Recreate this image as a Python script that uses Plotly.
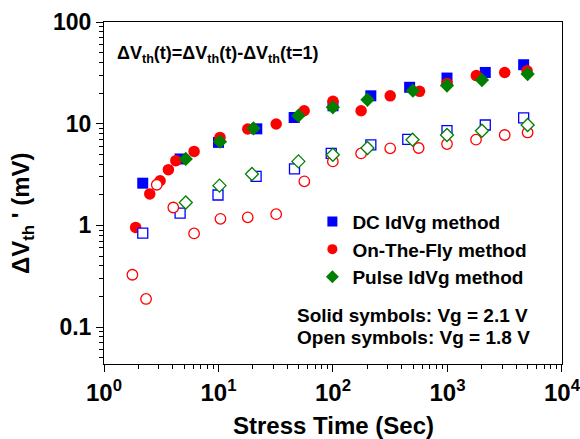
import plotly.graph_objects as go

# ---------------- data ----------------
dc_solid_x = [2.18, 4.62, 10, 21.6, 45.8, 100, 214, 467, 990, 2138, 4626]
dc_solid_y = [2.6, 4.5, 6.55, 8.9, 11.5, 15.0, 18.8, 22.8, 28.1, 31.9, 38.0]
dc_open_x = [2.18, 4.62, 9.9, 21.3, 46.1, 96.5, 214, 450, 990, 2138, 4626]
dc_open_y = [0.84, 1.32, 1.99, 3.03, 3.59, 5.1, 6.18, 7.0, 8.53, 9.71, 11.4]

otf_solid_x = [1.89, 2.51, 3.09, 3.65, 4.24, 6.12, 10.3, 18.0, 31.9, 56, 100, 176, 316, 570, 990, 1786, 3160, 4955]
otf_solid_y = [0.955, 2.04, 2.75, 3.53, 4.33, 5.34, 7.33, 8.87, 9.93, 13.4, 16.6, 13.4, 18.8, 20.8, 24.9, 29.7, 31.9, 33.2]
otf_open_x = [1.77, 2.33, 2.89, 4.03, 6.12, 10.4, 18.0, 31.9, 56.2, 99.7, 176, 316, 560, 990, 1775, 3160, 5010]
otf_open_y = [0.327, 0.189, 2.51, 1.5, 0.834, 1.16, 1.2, 1.29, 2.71, 4.26, 5.1, 5.72, 5.77, 6.31, 6.96, 7.74, 8.2]

pulse_solid_x = [5.18, 10.3, 20.2, 49.9, 99.7, 200, 499, 990, 2000, 5010]
pulse_solid_y = [4.5, 6.65, 9.0, 12.0, 14.5, 17.2, 21.1, 23.7, 26.9, 30.8]
pulse_open_x = [5.18, 10.2, 19.6, 49.9, 99.7, 200, 495, 990, 2000, 5010]
pulse_open_y = [1.68, 2.46, 3.2, 4.26, 4.95, 5.77, 6.96, 7.74, 8.53, 9.71]

legend_names = ["DC IdVg method", "On-The-Fly method", "Pulse IdVg method"]

x_tickvals = [1, 10, 100, 1000, 10000]
x_ticktext = ["10<sup>0</sup>", "10<sup>1</sup>", "10<sup>2</sup>", "10<sup>3</sup>", "10<sup>4</sup>"]
y_tickvals = [0.1, 1, 10, 100]
y_ticktext = ["0.1", "1", "10", "100"]

BLUE = "#0000ff"
RED = "#ff0000"
GREEN = "#008000"
FONT = "Liberation Sans, Arial, sans-serif"

fig = go.Figure()

def solid(x, y, sym, col, size):
    fig.add_trace(go.Scatter(x=x, y=y, mode="markers", showlegend=False,
                             marker=dict(symbol=sym, color=col, size=size,
                                         line=dict(width=0))))

def hollow(x, y, sym, col, size):
    fig.add_trace(go.Scatter(x=x, y=y, mode="markers", showlegend=False,
                             marker=dict(symbol=sym, color="white", size=size,
                                         line=dict(width=1.3, color=col))))

solid(dc_solid_x, dc_solid_y, "square", BLUE, 11)
solid(otf_solid_x, otf_solid_y, "circle", RED, 11.5)
solid(pulse_solid_x, pulse_solid_y, "diamond", GREEN, 11)
hollow(dc_open_x, dc_open_y, "square", BLUE, 10)
hollow(otf_open_x, otf_open_y, "circle", RED, 10.5)
hollow(pulse_open_x, pulse_open_y, "diamond", GREEN, 10)

# legend-only entries
for name, sym, col, sz in zip(legend_names, ["square", "circle", "diamond"],
                              [BLUE, RED, GREEN], [10, 10, 10]):
    fig.add_trace(go.Scatter(x=[None], y=[None], mode="markers", name=name,
                             marker=dict(symbol=sym, color=col, size=sz)))

def minor_vals(decades):
    out = []
    for d in decades:
        for k in range(2, 10):
            out.append(k * d)
    return out

fig.update_layout(
    width=580, height=439,
    margin=dict(l=104, r=18, t=22, b=75, autoexpand=False),
    paper_bgcolor="white", plot_bgcolor="white",
    font=dict(family=FONT, color="black", size=19, weight="bold"),
    legend=dict(x=0.455, y=0.472, xanchor="left", yanchor="top",
                bgcolor="rgba(0,0,0,0)", font=dict(size=19, family=FONT, weight="bold"),
                itemsizing="trace", tracegroupgap=0),
)

fig.update_xaxes(type="log", range=[0, 4.0001], showgrid=False, zeroline=False,
                 showline=True, linecolor="black", linewidth=1, mirror=True,
                 automargin=False,
                 ticks="outside", ticklen=7, tickwidth=1, tickcolor="black",
                 tickvals=x_tickvals, ticktext=x_ticktext, ticklabeloverflow="allow",
                 tickfont=dict(size=24, family=FONT, weight="bold"),
                 minor=dict(tickvals=minor_vals([1, 10, 100, 1000]), ticks="outside",
                            ticklen=4, tickcolor="black", tickwidth=1, showgrid=False))
fig.update_yaxes(type="log", range=[-1.363, 2], showgrid=False, zeroline=False,
                 showline=True, linecolor="black", linewidth=1, mirror=True,
                 automargin=False,
                 ticks="outside", ticklen=7, tickwidth=1, tickcolor="black",
                 tickvals=y_tickvals, ticktext=y_ticktext, ticklabeloverflow="allow",
                 tickfont=dict(size=23, family=FONT, weight="bold"),
                 minor=dict(tickvals=minor_vals([0.01, 0.1, 1, 10]), ticks="outside",
                            ticklen=4, tickcolor="black", tickwidth=1, showgrid=False))

# titles as annotations
fig.add_annotation(text="Stress Time (Sec)", xref="paper", yref="paper",
                   x=0.5, y=(364 - 425) / 342, xanchor="center", yanchor="middle",
                   showarrow=False, font=dict(size=24, family=FONT, weight="bold"))
fig.add_annotation(text="ΔV<sub>th</sub> ' (mV)", xref="paper", yref="paper",
                   x=(22 - 104) / 458, y=(364 - 214) / 342, xanchor="center", yanchor="middle",
                   textangle=-90, showarrow=False, font=dict(size=24, family=FONT, weight="bold"))
fig.add_annotation(text="ΔV<sub>th</sub>(t)=ΔV<sub>th</sub>(t)-ΔV<sub>th</sub>(t=1)",
                   xref="paper", yref="paper", x=(115 - 104) / 458, y=(364 - 54) / 342,
                   xanchor="left", yanchor="middle", showarrow=False,
                   font=dict(size=18, family=FONT, weight="bold"))
fig.add_annotation(text="Solid symbols: Vg = 2.1 V", xref="paper", yref="paper",
                   x=(295 - 104) / 458, y=(364 - 315) / 342, xanchor="left", yanchor="middle",
                   showarrow=False, font=dict(size=19, family=FONT, weight="bold"))
fig.add_annotation(text="Open symbols: Vg = 1.8 V", xref="paper", yref="paper",
                   x=(295 - 104) / 458, y=(364 - 337) / 342, xanchor="left", yanchor="middle",
                   showarrow=False, font=dict(size=19, family=FONT, weight="bold"))

fig.write_html("out.html")
